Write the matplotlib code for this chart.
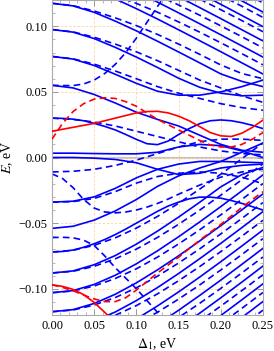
import numpy as np
import matplotlib
matplotlib.use("Agg")
import matplotlib.pyplot as plt

# abscissa (Delta_1, eV): coarse grid for gently bending levels, fine grid for curvy ones
delta = [0.0, 0.025, 0.05, 0.075, 0.1, 0.125, 0.15, 0.175, 0.2, 0.225, 0.25]
delta_fine = [0.0, 0.0125, 0.025, 0.0375, 0.05, 0.0625, 0.075, 0.0875, 0.1, 0.1125, 0.125,
              0.1375, 0.15, 0.1625, 0.175, 0.1875, 0.2, 0.2125, 0.225, 0.2375, 0.25]

# upper levels entering from the top (solid) and their dashed partners
top_solid = [
    [0.1344, 0.1324, 0.1275, 0.1208, 0.1134, 0.1055, 0.0973, 0.0890, 0.0806, 0.0721, 0.0636],
    [0.1473, 0.1453, 0.1404, 0.1337, 0.1263, 0.1184, 0.1102, 0.1019, 0.0935, 0.0850, 0.0765],
    [0.1596, 0.1576, 0.1527, 0.1460, 0.1386, 0.1307, 0.1225, 0.1142, 0.1058, 0.0973, 0.0888],
    [0.1705, 0.1685, 0.1636, 0.1569, 0.1495, 0.1416, 0.1334, 0.1251, 0.1167, 0.1082, 0.0997],
    [0.1816, 0.1796, 0.1747, 0.1680, 0.1606, 0.1527, 0.1445, 0.1362, 0.1278, 0.1193, 0.1108],
]
top_dashed = [
    [0.1344, 0.1326, 0.1285, 0.1233, 0.1174, 0.1107, 0.1033, 0.0955, 0.0874, 0.0791, 0.0706],
    [0.1473, 0.1455, 0.1414, 0.1362, 0.1303, 0.1236, 0.1162, 0.1084, 0.1003, 0.0920, 0.0835],
    [0.1596, 0.1578, 0.1537, 0.1485, 0.1426, 0.1359, 0.1285, 0.1207, 0.1126, 0.1043, 0.0958],
    [0.1705, 0.1687, 0.1646, 0.1594, 0.1535, 0.1468, 0.1394, 0.1316, 0.1235, 0.1152, 0.1067],
    [0.1816, 0.1798, 0.1757, 0.1705, 0.1646, 0.1579, 0.1505, 0.1427, 0.1346, 0.1263, 0.1178],
]

# upper levels visible at Delta_1 = 0
upper_solid = [
    [0.1175, 0.1155, 0.1106, 0.1039, 0.0965, 0.0886, 0.0804, 0.0721, 0.0637, 0.0580, 0.0540],
    [0.0975, 0.0955, 0.0906, 0.0839, 0.0765, 0.0686, 0.0604, 0.0535, 0.0490, 0.0470, 0.0475],
    [0.0770, 0.0750, 0.0701, 0.0634, 0.0565, 0.0505, 0.0475, 0.0475, 0.0500, 0.0540, 0.0590],
    [0.0550, 0.0530, 0.0480, 0.0415, 0.0345, 0.0290, 0.0240, 0.0170, 0.0100, 0.0055, 0.0040],
]
upper_dashed = [
    [0.1175, 0.1157, 0.1116, 0.1064, 0.1005, 0.0938, 0.0864, 0.0786, 0.0705, 0.0640, 0.0600],
    [0.0975, 0.0957, 0.0916, 0.0864, 0.0805, 0.0738, 0.0664, 0.0590, 0.0530, 0.0470, 0.0420],
    [0.0770, 0.0752, 0.0711, 0.0659, 0.0600, 0.0540, 0.0490, 0.0450, 0.0410, 0.0380, 0.0360],
    [0.0300, 0.0290, 0.0270, 0.0240, 0.0200, 0.0160, 0.0120, 0.0080, 0.0050, 0.0030, 0.0020],
]

# levels near zero energy
mid_solid = [
    [0.0033, 0.0033, 0.0030, 0.0028, 0.0028, 0.0040, 0.0080, 0.0100, 0.0090, 0.0050, 0.0000],
    [0.0000, 0.0000, -0.0005, -0.0015, -0.0040, -0.0090, -0.0130, -0.0120, -0.0080, -0.0060, -0.0050],
]
mid_dashed = [
    [-0.0110, -0.0105, -0.0090, -0.0060, -0.0020, 0.0030, 0.0080, 0.0120, 0.0140, 0.0140, 0.0130],
]

# lower levels (rising with Delta_1)
lower_solid = [
    [-0.0340, -0.0333, -0.0300, -0.0235, -0.0155, -0.0090, -0.0050, -0.0030, -0.0030, -0.0035, -0.0040],
    [-0.0540, -0.0524, -0.0477, -0.0407, -0.0320, -0.0220, -0.0140, -0.0080, -0.0030, 0.0040, 0.0110],
    [-0.0880, -0.0864, -0.0817, -0.0747, -0.0660, -0.0561, -0.0454, -0.0341, -0.0224, -0.0130, -0.0075],
    [-0.1030, -0.1014, -0.0967, -0.0897, -0.0810, -0.0711, -0.0604, -0.0491, -0.0374, -0.0254, -0.0132],
    [-0.1175, -0.1159, -0.1112, -0.1042, -0.0955, -0.0856, -0.0749, -0.0636, -0.0519, -0.0399, -0.0277],
    [-0.1310, -0.1294, -0.1247, -0.1177, -0.1090, -0.0991, -0.0884, -0.0771, -0.0654, -0.0534, -0.0412],
    [-0.1450, -0.1434, -0.1387, -0.1317, -0.1230, -0.1131, -0.1024, -0.0911, -0.0794, -0.0674, -0.0552],
    [-0.1590, -0.1574, -0.1527, -0.1457, -0.1370, -0.1271, -0.1164, -0.1051, -0.0934, -0.0814, -0.0692],
    [-0.1725, -0.1709, -0.1662, -0.1592, -0.1505, -0.1406, -0.1299, -0.1186, -0.1069, -0.0949, -0.0827],
    [-0.1860, -0.1844, -0.1797, -0.1727, -0.1640, -0.1541, -0.1434, -0.1321, -0.1204, -0.1084, -0.0962],
    [-0.1995, -0.1979, -0.1932, -0.1862, -0.1775, -0.1676, -0.1569, -0.1456, -0.1339, -0.1219, -0.1097],
]
lower_dashed = [
    [-0.0340, -0.0336, -0.0312, -0.0260, -0.0195, -0.0145, -0.0120, -0.0110, -0.0120, -0.0150, -0.0200],
    [-0.0720, -0.0707, -0.0669, -0.0612, -0.0538, -0.0449, -0.0349, -0.0241, -0.0127, -0.0009, 0.0112],
    [-0.0880, -0.0867, -0.0829, -0.0772, -0.0698, -0.0609, -0.0509, -0.0401, -0.0287, -0.0169, -0.0048],
    [-0.1030, -0.1017, -0.0979, -0.0922, -0.0848, -0.0759, -0.0659, -0.0551, -0.0437, -0.0319, -0.0198],
    [-0.1175, -0.1162, -0.1124, -0.1067, -0.0993, -0.0904, -0.0804, -0.0696, -0.0582, -0.0464, -0.0343],
    [-0.1310, -0.1297, -0.1259, -0.1202, -0.1128, -0.1039, -0.0939, -0.0831, -0.0717, -0.0599, -0.0478],
    [-0.1450, -0.1437, -0.1399, -0.1342, -0.1268, -0.1179, -0.1079, -0.0971, -0.0857, -0.0739, -0.0618],
    [-0.1590, -0.1577, -0.1539, -0.1482, -0.1408, -0.1319, -0.1219, -0.1111, -0.0997, -0.0879, -0.0758],
    [-0.1725, -0.1712, -0.1674, -0.1617, -0.1543, -0.1454, -0.1354, -0.1246, -0.1132, -0.1014, -0.0893],
    [-0.1860, -0.1847, -0.1809, -0.1752, -0.1678, -0.1589, -0.1489, -0.1381, -0.1267, -0.1149, -0.1028],
    [-0.1995, -0.1982, -0.1944, -0.1887, -0.1813, -0.1724, -0.1624, -0.1516, -0.1402, -0.1284, -0.1163],
]

# strongly bending blue levels, on the fine grid
curvy_solid = [
    [0.0300, 0.0298, 0.0292, 0.0280, 0.0260, 0.0237, 0.0210, 0.0175, 0.0138, 0.0105, 0.0098,
     0.0125, 0.0175, 0.0220, 0.0258, 0.0280, 0.0286, 0.0280, 0.0265, 0.0245, 0.0220],
    [-0.0720, -0.0716, -0.0705, -0.0684, -0.0657, -0.0625, -0.0587, -0.0545, -0.0500, -0.0455,
     -0.0410, -0.0370, -0.0340, -0.0315, -0.0302, -0.0302, -0.0310, -0.0328, -0.0350, -0.0375, -0.0400],
]
curvy_dashed = [
    [0.0550, 0.0548, 0.0548, 0.0560, 0.0590, 0.0640, 0.0710, 0.0800, 0.0910, 0.1030, 0.1150,
     0.1270, 0.1390, 0.1510, 0.1630, 0.1750, 0.1870, 0.1990, 0.2110, 0.2230, 0.2350],
    [-0.0125, -0.0160, -0.0230, -0.0320, -0.0385, -0.0415, -0.0422, -0.0415, -0.0400, -0.0378,
     -0.0350, -0.0317, -0.0280, -0.0245, -0.0210, -0.0180, -0.0150, -0.0128, -0.0110, -0.0098, -0.0090],
    [-0.0610, -0.0608, -0.0612, -0.0630, -0.0670, -0.0750, -0.0840, -0.0920, -0.1000, -0.1090,
     -0.1180, -0.1270, -0.1360, -0.1450, -0.1540, -0.1630, -0.1720, -0.1810, -0.1900, -0.1990, -0.2080],
]

# red states, on the fine grid
red_solid = [
    [0.0200, 0.0215, 0.0230, 0.0245, 0.0260, 0.0280, 0.0300, 0.0320, 0.0340, 0.0350, 0.0352,
     0.0340, 0.0315, 0.0280, 0.0235, 0.0190, 0.0165, 0.0160, 0.0185, 0.0230, 0.0285],
    [-0.0970, -0.0982, -0.1005, -0.1045, -0.1105, -0.1180, -0.1260, -0.1350, -0.1450, -0.1550,
     -0.1650, -0.1750, -0.1850, -0.1950, -0.2050, -0.2150, -0.2250, -0.2350, -0.2450, -0.2550, -0.2650],
]
red_dashed = [
    [0.0140, 0.0260, 0.0350, 0.0410, 0.0445, 0.0455, 0.0450, 0.0425, 0.0390, 0.0340, 0.0290,
     0.0250, 0.0210, 0.0170, 0.0130, 0.0095, 0.0080, 0.0080, 0.0100, 0.0140, 0.0190],
    [-0.0970, -0.0990, -0.1015, -0.1048, -0.1078, -0.1098, -0.1098, -0.1068, -0.1010, -0.0945,
     -0.0880, -0.0820, -0.0760, -0.0695, -0.0630, -0.0570, -0.0510, -0.0445, -0.0380, -0.0320, -0.0260],
]

x_ticks = [0.0, 0.05, 0.10, 0.15, 0.20, 0.25]
y_ticks = [-0.10, -0.05, 0.0, 0.05, 0.10]

BLUE = "#0000ff"
RED = "#ff0000"
LW = 1.2
DASH = (0, (4, 2.5))

plt.rcParams["font.family"] = ["Liberation Serif", "DejaVu Serif"]
plt.rcParams["mathtext.fontset"] = "stix"

fig = plt.figure(figsize=(2.74, 3.51), dpi=100)
ax = fig.add_axes([52 / 274, 36 / 351, 211 / 274, 315 / 351])

ax.grid(True, which="major", color="#ffd3a0", ls=(0, (3, 2)), lw=0.6, zorder=0)
ax.axhline(0, color="#c8c2ba", lw=1.6, zorder=1)

groups = [
    (delta, top_solid, BLUE, "-"), (delta, top_dashed, BLUE, DASH),
    (delta, upper_solid, BLUE, "-"), (delta, upper_dashed, BLUE, DASH),
    (delta, mid_solid, BLUE, "-"), (delta, mid_dashed, BLUE, DASH),
    (delta, lower_solid, BLUE, "-"), (delta, lower_dashed, BLUE, DASH),
    (delta_fine, curvy_solid, BLUE, "-"), (delta_fine, curvy_dashed, BLUE, DASH),
    (delta_fine, red_solid, RED, "-"), (delta_fine, red_dashed, RED, DASH),
]
for xs, rows, color, ls in groups:
    for y in rows:
        ax.plot(xs, y, color=color, ls=ls, lw=LW, zorder=3 if color == RED else 2)

ax.set_xlim(0, 0.25)
ax.set_ylim(-0.12, 0.12)
ax.set_xticks(x_ticks)
ax.set_xticklabels([f"{t:.2f}" for t in x_ticks])
ax.set_yticks(y_ticks)
ax.set_yticklabels([f"{t:.2f}".replace("-", "\u2212") for t in y_ticks])
ax.set_xticks(np.arange(0, 0.2501, 0.01), minor=True)
ax.set_yticks(np.arange(-0.12, 0.1201, 0.01), minor=True)
ax.tick_params(which="both", direction="in", top=True, right=True,
               color="#999999", labelsize=9)
ax.tick_params(which="major", length=4, width=0.7)
ax.tick_params(which="minor", length=2, width=0.5)
for s in ax.spines.values():
    s.set_color("#aaaaaa")
    s.set_linewidth(0.8)

ax.set_xlabel("$\\Delta_1$, eV", fontsize=10, labelpad=3)
ax.set_ylabel("$E$, eV", fontsize=10, labelpad=2)

fig.savefig("out.png", dpi=100)
